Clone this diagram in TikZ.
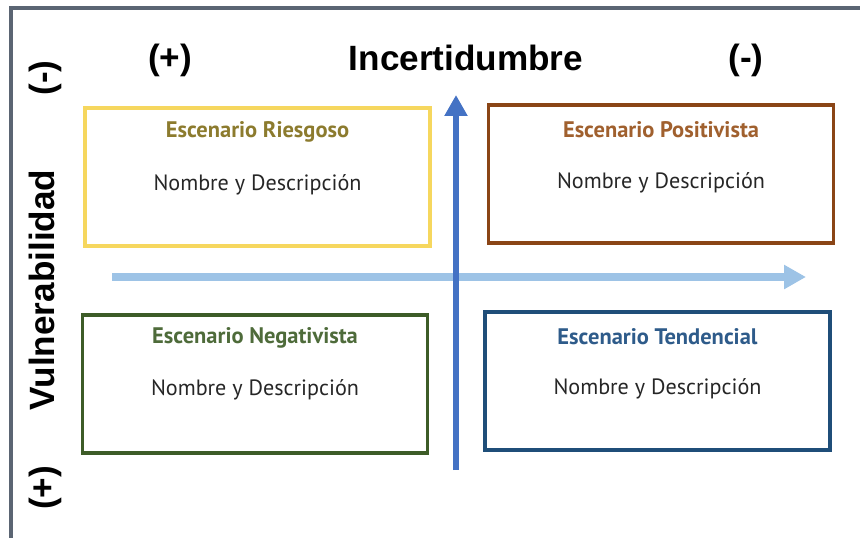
\documentclass[tikz,border=0pt]{standalone}
\usepackage{fontspec}
\setmainfont{Liberation Sans}
\newfontfamily\cajafont{PT Sans}
\usetikzlibrary{arrows.meta}
\usetikzlibrary{positioning}

\definecolor{marco}{HTML}{5B6573}
\definecolor{amarillo}{HTML}{F6D75E}
\definecolor{amarilloT}{HTML}{8C7B2E}
\definecolor{marron}{HTML}{8A4516}
\definecolor{marronT}{HTML}{A0602E}
\definecolor{verde}{HTML}{3D5C28}
\definecolor{verdeT}{HTML}{4E6B3A}
\definecolor{azul}{HTML}{1F4E79}
\definecolor{azulT}{HTML}{2E5B8A}
\definecolor{flechaV}{HTML}{4472C4}
\definecolor{flechaH}{HTML}{9DC3E6}

\tikzset{
  caja/.style={draw, line width=2.2pt, minimum width=6.9cm, minimum height=2.76cm, inner sep=0pt},
  titulo/.style={font=\cajafont\bfseries\fontsize{12.8}{14}\selectfont},
  desc/.style={font=\cajafont\fontsize{12.6}{14}\selectfont, text=black!85},
  eje/.style={font=\bfseries\fontsize{20}{24}\selectfont},
}

\begin{document}
\begin{tikzpicture}[x=0.02cm,y=-0.02cm]
\useasboundingbox (0,0) rectangle (860,538);
% frame
\coordinate (m1) at (860,8);
\coordinate (m2) at (11,8);
\coordinate (m3) at (11,538);
\draw[marco, line width=1.8pt] (m1) -- (m2) -- (m3);
% axis labels
\node[eje] (mas1) at (170,60) {(+)};
\node[eje] (inc) at (466,58) {Incertidumbre};
\node[eje] (menos1) at (746,60) {(-)};
\node[eje, rotate=90] (menos2) at (45,78) {(-)};
\node[eje, rotate=90] (vul) at (42,290) {Vulnerabilidad};
\node[eje, rotate=90] (mas2) at (45,488) {(+)};
% boxes
\node[caja, draw=amarillo] (riesgo) at (257.5,177) {};
\node[titulo, text=amarilloT] (riesgoT) at ([yshift=-0.52cm]riesgo.north) {Escenario Riesgoso};
\node[desc] (riesgoD) at ([yshift=-1.58cm]riesgo.north) {Nombre y Descripción};

\node[caja, draw=marron] (posit) at (661,174) {};
\node[titulo, text=marronT] (positT) at ([yshift=-0.54cm]posit.north) {Escenario Positivista};
\node[desc] (positD) at ([yshift=-1.6cm]posit.north) {Nombre y Descripción};

\node[caja, draw=verde] (negat) at (255,384) {};
\node[titulo, text=verdeT] (negatT) at ([yshift=-0.5cm]negat.north) {Escenario Negativista};
\node[desc] (negatD) at ([yshift=-1.54cm]negat.north) {Nombre y Descripción};

\node[caja, draw=azul] (tend) at (657.5,381) {};
\node[titulo, text=azulT] (tendT) at ([yshift=-0.54cm]tend.north) {Escenario Tendencial};
\node[desc] (tendD) at ([yshift=-1.58cm]tend.north) {Nombre y Descripción};
% arrows
\coordinate (h1) at (112,277);
\coordinate (h2) at (806,277);
\coordinate (v1) at (456,470);
\coordinate (v2) at (456,95);
\draw[flechaH, line width=4pt, -{Triangle[length=0.44cm,width=0.46cm]}] (h1) -- (h2);
\draw[flechaV, line width=3.4pt, -{Triangle[length=0.42cm,width=0.44cm]}] (v1) -- (v2);
\end{tikzpicture}
\end{document}
